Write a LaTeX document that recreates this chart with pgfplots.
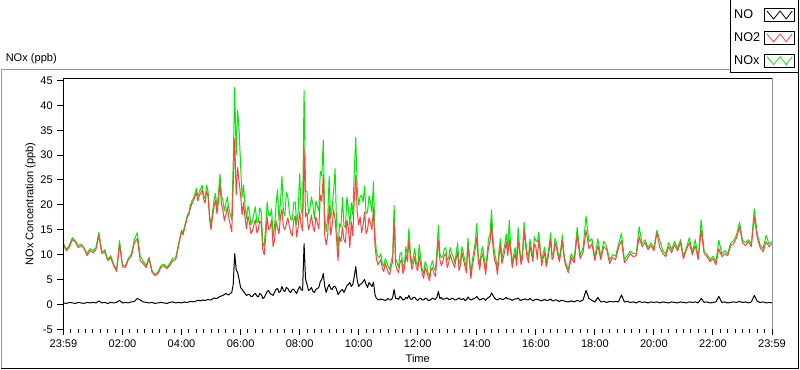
\documentclass[border=0pt]{standalone}
\usepackage{fontspec}
\setmainfont{Liberation Sans}
\usepackage{pgfplots}
\pgfplotsset{compat=1.18}
\usepackage{pgfplotstable}
\definecolor{nored}{RGB}{255,64,64}
\definecolor{noxgreen}{RGB}{0,235,0}
\definecolor{framegray}{RGB}{150,150,150}

\pgfplotstableread{
t no no2 nox
0.0 0.3 12.0 12.3
0.1 0.2 10.8 11.0
0.2 0.4 11.5 11.9
0.3 0.3 13.0 13.4
0.4 0.2 12.6 12.8
0.5 0.4 11.4 11.8
0.6 0.3 11.8 12.1
0.7 0.2 11.2 11.4
0.8 0.4 9.8 10.2
0.9 0.3 10.8 11.2
1.0 0.4 10.4 10.8
1.1 0.3 11.0 11.4
1.2 0.7 13.8 14.5
1.3 0.3 10.2 10.5
1.4 0.4 10.6 11.0
1.5 0.2 8.8 9.0
1.6 0.4 9.4 9.8
1.7 0.3 7.8 8.1
1.8 0.4 6.6 7.0
1.9 0.8 12.0 12.8
2.0 0.3 7.6 7.9
2.1 0.4 7.4 7.8
2.2 0.3 9.0 9.3
2.3 0.5 9.6 10.1
2.4 0.6 12.4 13.0
2.5 1.2 13.2 14.4
2.6 0.9 8.8 9.7
2.7 0.5 8.2 8.7
2.8 0.4 7.4 7.8
2.9 0.3 9.2 9.5
3.0 0.4 6.4 6.8
3.1 0.2 5.8 6.0
3.2 0.3 6.2 6.5
3.3 0.4 7.4 7.8
3.4 0.3 7.8 8.1
3.5 0.2 7.2 7.4
3.6 0.4 7.8 8.2
3.7 0.5 8.8 9.3
3.8 0.3 9.0 9.3
3.9 0.4 11.8 12.2
4.0 0.3 14.6 14.9
4.05 0.4 14.0 14.4
4.1 0.5 15.2 15.7
4.15 0.4 16.4 16.8
4.2 0.4 17.6 18.0
4.25 0.5 18.0 18.5
4.3 0.6 19.4 20.0
4.35 0.6 20.2 20.8
4.4 0.5 20.8 21.3
4.45 0.6 21.6 22.2
4.5 0.7 22.6 23.3
4.55 0.8 20.8 21.6
4.6 0.8 21.8 22.6
4.65 0.7 22.4 23.2
4.7 0.9 23.0 23.9
4.75 0.8 21.0 21.8
4.8 0.8 20.4 21.2
4.85 0.9 22.8 24.0
4.9 1.0 21.6 22.6
4.95 0.9 17.0 17.9
5.0 0.9 15.0 15.9
5.05 1.1 17.6 18.7
5.1 1.3 19.6 20.9
5.15 1.2 21.0 22.3
5.2 1.2 18.2 19.4
5.25 1.4 20.6 22.2
5.3 1.6 24.4 26.2
5.35 1.7 20.2 22.0
5.4 1.8 19.0 20.8
5.45 2.0 16.8 18.8
5.5 2.2 18.0 20.2
5.55 2.0 19.6 21.6
5.6 1.9 17.4 19.3
5.65 2.2 16.0 18.2
5.7 2.4 14.6 17.0
5.75 4.0 24.0 28.5
5.8 10.2 33.3 43.6
5.85 7.0 22.0 30.0
5.9 6.4 27.5 39.0
5.95 5.0 24.6 35.0
6.0 3.4 22.0 28.0
6.05 3.0 18.0 21.5
6.1 2.6 20.5 24.0
6.15 2.2 17.4 19.8
6.2 1.8 15.2 17.2
6.25 2.0 17.8 19.8
6.3 2.0 16.4 18.6
6.35 1.6 14.2 16.0
6.4 1.6 14.8 16.6
6.45 2.0 16.0 18.2
6.5 2.2 17.0 19.6
6.55 1.7 14.4 16.4
6.6 1.5 15.0 16.6
6.65 2.2 16.8 19.4
6.7 2.0 16.2 18.4
6.75 1.2 11.0 12.4
6.8 1.4 10.0 11.6
6.85 2.0 13.6 15.8
6.9 2.6 17.6 20.6
6.95 2.8 15.0 18.0
7.0 2.2 15.4 17.8
7.05 2.0 17.0 19.2
7.1 1.8 11.6 13.6
7.15 2.4 13.0 15.6
7.2 3.0 16.8 20.0
7.25 3.2 15.4 23.0
7.3 2.4 14.2 16.8
7.35 2.6 17.6 20.4
7.4 3.6 19.2 25.8
7.45 2.8 15.6 18.6
7.5 2.6 15.0 17.8
7.55 3.4 16.2 22.6
7.6 3.2 17.4 21.6
7.65 2.6 15.8 18.6
7.7 2.4 14.4 17.0
7.75 3.0 13.8 17.0
7.8 3.0 16.8 20.4
7.85 2.6 17.8 20.6
7.9 2.2 13.6 16.0
7.95 3.0 15.6 18.8
8.0 3.6 18.6 26.3
8.05 3.0 16.0 19.2
8.1 2.8 14.8 17.8
8.15 12.2 31.3 43.0
8.2 5.0 17.6 22.8
8.25 4.0 18.4 22.6
8.3 2.8 15.0 18.2
8.35 3.0 16.2 19.4
8.4 3.4 18.0 21.6
8.45 2.6 15.6 20.0
8.5 2.4 14.6 17.2
8.55 3.0 17.6 20.8
8.6 3.2 16.4 19.8
8.65 3.4 15.2 18.8
8.7 4.6 22.0 26.8
8.75 5.0 20.8 25.8
8.8 6.2 26.0 33.0
8.85 3.6 14.0 17.6
8.9 2.4 12.0 14.6
8.95 3.4 13.8 17.4
9.0 4.0 20.0 25.7
9.05 3.2 14.0 17.2
9.1 3.0 15.8 19.0
9.15 3.6 19.0 22.8
9.2 3.6 17.2 27.3
9.25 3.0 13.2 16.2
9.3 2.0 8.8 10.8
9.35 2.4 13.6 16.2
9.4 2.8 12.6 15.6
9.45 3.0 15.6 21.5
9.5 2.4 13.0 15.8
9.55 3.0 12.4 15.4
9.6 3.8 17.0 21.6
9.65 4.0 15.4 19.4
9.7 4.4 11.4 15.8
9.75 3.6 16.6 20.4
9.8 4.0 13.8 18.0
9.85 5.6 21.0 26.6
9.9 7.6 26.0 33.5
9.95 4.8 18.6 23.4
10.0 3.6 16.0 20.0
10.05 4.0 17.6 21.6
10.1 4.2 14.4 22.0
10.15 4.6 16.0 20.6
10.2 5.0 18.6 23.8
10.25 4.0 14.2 18.2
10.3 3.4 15.0 18.6
10.35 4.4 17.4 21.8
10.4 4.0 16.4 20.6
10.45 3.6 15.0 18.6
10.5 4.5 19.5 24.7
10.55 2.0 12.0 14.0
10.6 1.2 9.2 10.6
10.65 1.0 8.0 9.6
10.7 0.9 8.4 9.4
10.75 1.1 9.0 10.2
10.8 1.0 7.2 8.2
10.85 0.9 6.6 7.6
10.9 0.8 8.2 9.2
10.95 1.0 7.4 8.4
11.0 1.2 6.4 7.6
11.05 0.9 6.0 7.0
11.1 0.9 7.6 8.6
11.15 1.4 8.6 9.8
11.2 3.0 16.6 19.9
11.25 1.2 8.0 9.2
11.3 1.2 7.0 8.4
11.35 1.0 6.4 7.4
11.4 1.6 8.4 10.2
11.45 1.3 9.0 10.4
11.5 0.9 6.2 7.2
11.55 1.0 7.2 8.2
11.6 1.4 10.0 11.6
11.65 1.2 8.6 9.8
11.7 1.8 13.0 15.3
11.75 1.1 9.4 10.5
11.8 1.0 7.0 8.0
11.85 1.4 8.2 9.6
11.9 1.4 9.6 11.2
11.95 1.0 7.4 8.4
12.0 0.8 6.8 7.6
12.05 1.1 9.6 12.0
12.1 1.3 8.0 9.4
12.15 0.9 6.2 7.1
12.2 0.9 5.2 6.2
12.25 1.2 7.4 8.6
12.3 1.2 6.6 7.8
12.35 0.8 5.6 6.4
12.4 0.8 4.8 5.6
12.45 1.0 6.8 7.8
12.5 1.3 7.4 8.8
12.55 1.1 6.2 7.3
12.6 1.0 5.6 6.8
12.65 1.5 9.4 10.9
12.7 2.6 13.0 15.9
12.75 1.2 9.0 10.2
12.8 1.4 7.8 9.4
12.85 1.0 8.6 9.6
12.9 1.1 9.8 11.2
12.95 1.2 10.2 11.4
13.0 1.3 7.4 8.9
13.05 1.0 8.4 9.4
13.1 1.0 10.0 11.4
13.15 1.2 9.0 10.2
13.2 1.2 8.2 9.6
13.25 0.9 7.4 8.3
13.3 0.9 9.2 10.2
13.35 1.1 10.6 12.4
13.4 1.3 6.8 8.2
13.45 1.0 8.0 9.0
13.5 1.0 10.4 11.6
13.55 1.2 9.0 10.2
13.6 0.8 7.6 8.6
13.65 0.9 6.4 7.3
13.7 1.5 11.8 13.3
13.75 1.1 8.6 9.7
13.8 0.9 5.2 6.2
13.85 1.0 7.8 8.8
13.9 1.2 9.4 10.8
13.95 1.3 11.2 12.5
14.0 1.6 13.5 16.3
14.05 1.2 8.8 10.0
14.1 0.9 7.0 8.0
14.15 1.0 9.4 10.4
14.2 1.2 10.2 11.6
14.25 1.1 8.2 9.3
14.3 0.8 6.0 6.9
14.35 1.2 9.0 10.2
14.4 1.4 11.6 13.2
14.45 1.6 12.6 14.2
14.5 2.3 16.3 19.0
14.55 1.8 11.4 13.2
14.6 1.3 9.0 10.4
14.65 1.0 8.0 9.0
14.7 0.9 6.0 7.0
14.75 1.1 9.6 10.7
14.8 1.2 11.8 13.2
14.85 1.0 8.2 9.2
14.9 1.0 9.4 10.6
14.95 1.2 10.8 12.0
15.0 1.4 12.6 14.2
15.05 1.1 9.8 11.0
15.1 1.1 13.0 16.9
15.15 1.0 10.6 11.6
15.2 0.8 7.4 8.2
15.25 1.0 9.0 10.0
15.3 1.1 10.2 11.4
15.35 1.1 7.8 8.9
15.4 1.3 12.8 15.5
15.45 0.9 10.6 11.5
15.5 0.8 8.0 8.8
15.55 1.0 9.4 10.4
15.6 1.0 15.0 16.5
15.65 1.1 12.0 13.1
15.7 0.9 9.6 10.6
15.75 0.9 8.4 9.3
15.8 1.2 11.8 13.1
15.85 1.0 10.2 11.2
15.9 0.7 8.6 9.4
15.95 0.9 12.2 13.6
16.0 1.0 11.6 12.8
16.05 1.0 9.0 12.6
16.1 0.9 13.0 14.5
16.15 0.8 10.6 11.4
16.2 0.7 7.8 8.6
16.25 0.9 9.4 10.3
16.3 1.0 10.4 11.5
16.35 0.8 7.6 8.4
16.4 0.8 8.8 9.7
16.45 0.9 10.8 11.7
16.5 1.1 13.0 14.4
16.55 0.8 9.0 9.8
16.6 0.7 9.6 10.4
16.65 0.9 12.4 13.3
16.7 0.9 11.4 12.4
16.75 0.7 9.8 10.5
16.8 0.6 8.6 9.3
16.85 0.8 10.6 11.4
16.9 0.8 12.8 14.0
16.95 0.7 9.6 10.3
17.0 0.6 8.0 8.6
17.1 0.5 6.4 7.0
17.2 0.7 9.4 10.2
17.3 0.5 8.4 9.0
17.4 0.8 14.0 15.5
17.5 0.6 9.2 9.9
17.6 0.9 10.4 11.4
17.7 2.8 14.9 17.7
17.8 1.2 11.2 12.6
17.9 0.8 12.2 13.2
18.0 0.5 8.8 9.4
18.1 1.4 11.8 13.2
18.2 0.5 9.0 9.6
18.3 0.6 11.6 12.7
18.4 0.4 11.0 11.6
18.5 0.6 8.2 8.9
18.6 0.5 9.4 10.0
18.7 0.6 9.0 9.7
18.8 0.5 11.4 12.0
18.9 1.9 12.8 14.3
19.0 0.5 8.4 9.0
19.1 0.6 9.2 9.9
19.2 0.4 10.2 10.7
19.3 0.5 9.6 10.2
19.4 0.3 9.8 10.2
19.5 0.6 13.6 15.6
19.6 0.4 11.6 12.2
19.7 0.5 12.4 13.0
19.8 0.3 11.0 11.4
19.9 0.5 11.8 12.4
20.0 0.4 10.8 11.3
20.1 0.5 14.4 14.9
20.2 0.3 11.4 12.8
20.3 0.5 10.2 10.8
20.4 0.4 9.6 10.1
20.5 0.3 11.6 12.4
20.6 0.5 10.4 11.0
20.7 0.4 12.0 12.7
20.8 0.3 10.8 11.2
20.9 0.5 12.4 13.0
21.0 0.4 9.2 9.7
21.1 0.3 11.0 11.4
21.2 0.5 12.4 13.4
21.3 0.4 10.0 10.5
21.4 0.5 11.8 13.0
21.5 0.3 9.0 9.3
21.6 1.2 14.9 17.0
21.7 0.4 10.2 10.7
21.8 0.5 9.6 10.1
21.9 0.3 8.6 9.0
22.0 0.4 9.2 9.7
22.1 0.5 8.0 8.6
22.2 1.6 11.2 12.9
22.3 0.4 9.6 10.1
22.4 0.5 10.2 10.8
22.5 0.3 9.8 10.2
22.6 0.4 11.8 12.3
22.7 0.5 12.2 12.8
22.8 0.4 13.4 14.0
22.9 0.6 15.6 16.5
23.0 0.4 12.4 12.9
23.1 0.5 11.8 12.4
23.2 0.3 12.6 13.0
23.3 0.5 11.6 12.2
23.4 1.8 17.6 19.2
23.5 0.6 13.4 14.1
23.6 0.4 11.4 11.9
23.7 0.5 10.6 11.2
23.8 0.3 12.6 13.9
23.9 0.4 11.6 12.1
24.0 0.3 12.2 12.6
}\datatable

\begin{document}
\begin{tikzpicture}[font=\fontsize{8.3}{10}\selectfont]
\path (0,0) rectangle (600pt,276.75pt);
% outer panel frame
\draw[framegray, line width=0.75pt] (0.375pt,0.375pt) -- (0.375pt,224.6pt) -- (547.5pt,224.6pt);
\draw[black, line width=0.75pt] (0,0.375pt) -- (598.5pt,0.375pt) -- (598.5pt,276.75pt);
\draw[black, line width=0.75pt] (547.5pt,276.75pt) -- (547.5pt,222.4pt) -- (598.5pt,222.4pt);
\node[anchor=west, inner sep=0pt] at (3.75pt,233.25pt) {NOx (ppb)};

\begin{axis}[
  at={(47.25pt,30pt)}, anchor=south west,
  scale only axis, width=531.75pt, height=188.25pt,
  xmin=0, xmax=24, ymin=-5, ymax=45.4,
  axis line style={draw=none},
  xtick={0,2,...,24},
  xticklabels={23:59,02:00,04:00,06:00,08:00,10:00,12:00,14:00,16:00,18:00,20:00,22:00,23:59},
  minor x tick num=7,
  ytick={-5,0,...,45},
  xtick pos=left, ytick pos=left, tick align=outside,
  major tick length=4.5pt, minor tick length=2.6pt,
  tick style={black, line width=0.75pt},
  /pgf/number format/assume math mode=true,
  ticklabel style={font=\fontsize{8.3}{10}\selectfont},
  xlabel={Time}, ylabel={NOx Concentration (ppb)},
  xlabel style={at={(axis description cs:0.5,-0.1155)}, anchor=center},
  ylabel style={at={(axis description cs:-0.0465,0.5)}, anchor=center},
  reverse legend,
  legend plot pos=right,
  legend cell align=left,
  legend style={at={(axis description cs:0.9440,1.282)}, anchor=north west,
    draw=none, fill=none, inner sep=0pt, row sep=6.6pt, column sep=1.5pt,
    font=\fontsize{9.5}{11}\selectfont,
    nodes={inner sep=1.2pt}},
  legend image code/.code={
    \draw[black, line width=0.6pt] (0pt,-4.9pt) rectangle (22.5pt,4.9pt);
    \draw[#1, line width=0.6pt] (2pt,3pt) -- (7pt,-3pt) -- (12pt,3pt) -- (16.5pt,-3pt) -- (21pt,3pt);
  },
  every axis plot/.append style={line width=0.75pt, line join=round},
]
\addplot[noxgreen] table[x=t, y=nox] {\datatable};
\addlegendentry{NOx}
\addplot[nored] table[x=t, y=no2] {\datatable};
\addlegendentry{NO2}
\addplot[black] table[x=t, y=no] {\datatable};
\addlegendentry{NO}
\end{axis}
% plot area frame
\draw[black, line width=0.75pt] (47.25pt,29.5pt) -- (47.25pt,218.25pt) -- (579pt,218.25pt);
\draw[framegray, line width=0.75pt] (579pt,218.25pt) -- (579pt,30pt);
\end{tikzpicture}
\end{document}
